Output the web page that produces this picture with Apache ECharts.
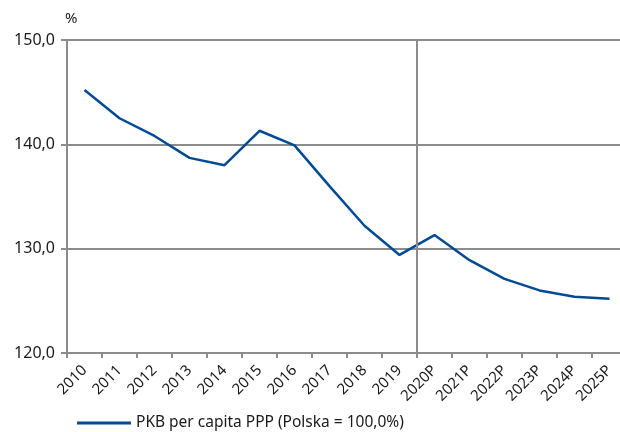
<!DOCTYPE html>
<html>
<head>
<meta charset="utf-8">
<script src="https://cdn.jsdelivr.net/npm/echarts@6/dist/echarts.min.js"></script>
<style>
  html, body { margin: 0; padding: 0; background: #fff; }
  #chart { width: 620px; height: 432px; }
</style>
</head>
<body>
<div id="chart"></div>
<script>
const years = ['2010', '2011', '2012', '2013', '2014', '2015', '2016', '2017', '2018', '2019',
  '2020P', '2021P', '2022P', '2023P', '2024P', '2025P'];
const gdpPerCapita = [145.2, 142.5, 140.8, 138.7, 138.0, 141.3, 139.9, 136.0, 132.2, 129.4,
  131.3, 128.9, 127.1, 126.0, 125.4, 125.2];
const forecastStart = 10; // granica miedzy 2019 a 2020P
const seriesName = 'PKB per capita PPP (Polska = 100,0%)';

const font = 'Noto Sans';
const grey = '#8c8c8c';

var myChart = echarts.init(document.getElementById('chart'));
myChart.setOption({
  animation: false,
  textStyle: { fontFamily: font },
  grid: { left: 67, width: 560, top: 40, bottom: 79, outerBoundsMode: 'none', containLabel: false },
  legend: {
    left: 72,
    bottom: -4,
    itemWidth: 54,
    itemHeight: 3,
    icon: 'rect',
    textStyle: { fontSize: 15.5, color: '#1a1a1a', fontFamily: font },
    data: [seriesName]
  },
  xAxis: [
    {
      type: 'category',
      data: years,
      boundaryGap: true,
      axisLine: { lineStyle: { color: grey, width: 2 } },
      axisTick: { show: true, length: 5, lineStyle: { color: grey, width: 2 } },
      axisLabel: { rotate: 45, fontSize: 15, color: '#1a1a1a', margin: 15 }
    },
    {
      type: 'value',
      min: 0,
      max: years.length,
      show: false
    }
  ],
  yAxis: {
    type: 'value',
    min: 120,
    max: 150,
    interval: 10,
    name: '%',
    nameGap: 14,
    nameTextStyle: { fontSize: 15, color: '#1a1a1a', align: 'left', padding: [0, 0, 0, -2] },
    axisLine: { show: true, lineStyle: { color: grey, width: 2 } },
    axisTick: { show: true, length: 6, lineStyle: { color: grey, width: 2 } },
    axisLabel: {
      fontSize: 16,
      color: '#1a1a1a',
      margin: 12,
      formatter: v => v.toFixed(1).replace('.', ',')
    },
    splitLine: { lineStyle: { color: grey, width: 2 } }
  },
  series: [
    {
      name: seriesName,
      type: 'line',
      data: gdpPerCapita,
      symbol: 'none',
      lineStyle: { color: '#004b93', width: 2.5 },
      itemStyle: { color: '#004b93' }
    },
    {
      type: 'line',
      xAxisIndex: 1,
      data: [],
      markLine: {
        silent: true,
        symbol: 'none',
        label: { show: false },
        lineStyle: { color: grey, width: 2, type: 'solid' },
        data: [{ xAxis: forecastStart }]
      }
    }
  ]
});
</script>
</body>
</html>
